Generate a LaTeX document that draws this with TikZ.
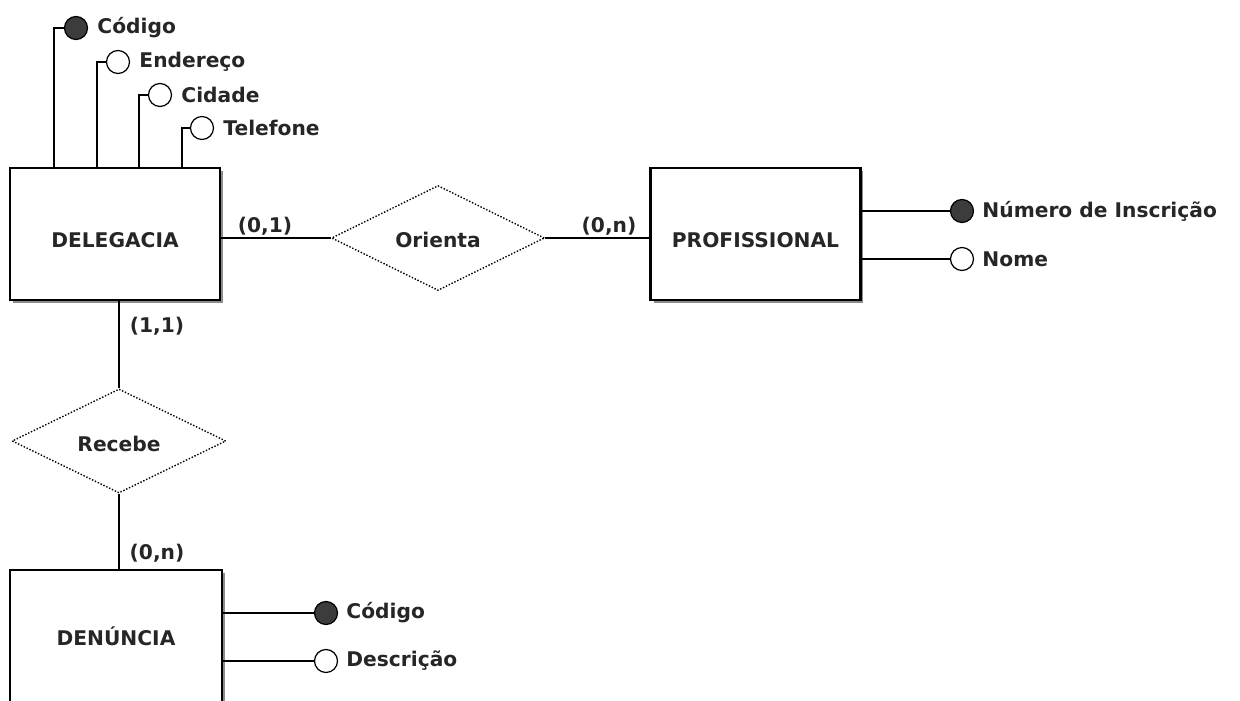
\documentclass[tikz,border=0pt]{standalone}
\usepackage{fontspec}
\setmainfont{DejaVu Sans}
\usetikzlibrary{shapes.geometric,shadows}
\definecolor{txt}{HTML}{262626}
\definecolor{keyfill}{HTML}{3C3C3C}
\begin{document}
\begin{tikzpicture}[x=0.02cm,y=-0.02cm,
  every node/.style={font=\fontsize{11.5}{13}\selectfont\bfseries, text=txt},
  entity/.style={draw=black, line width=1.3pt, fill=white, minimum width=4.2cm, minimum height=2.64cm, inner sep=0pt,
    text height=0.54cm, text depth=0cm,
    drop shadow={shadow xshift=0.06cm, shadow yshift=-0.06cm, fill=black!45, opacity=1}},
  relation/.style={diamond, draw=black, densely dotted, line width=0.8pt, fill=white, inner sep=0pt},
  conn/.style={draw=black, line width=0.9pt},
  attr/.style={circle, draw=black, line width=0.7pt, fill=white, minimum size=0.46cm, inner sep=0pt},
  keyattr/.style={attr, fill=keyfill},
  attrtext/.style={anchor=west, inner sep=0pt},
  card/.style={inner sep=0pt}]
\clip (0,0) rectangle (1240,700);
\fill[white] (0,0) rectangle (1240,700);

% entities
\node[entity] (del) at (115,234) {DELEGACIA};
\node[entity] (pro) at (755.5,234) {PROFISSIONAL};
\node[entity, minimum width=4.24cm, minimum height=2.8cm, text height=0.22cm] (den) at (116,640) {DENÚNCIA};

% relationships
\node[relation, minimum width=4.26cm, minimum height=2.1cm, text height=0.38cm, text depth=0cm] (ori) at (438,238) {Orienta};
\node[relation, minimum width=4.28cm, minimum height=2.08cm, text height=0.42cm, text depth=0cm] (rec) at (119,441) {Recebe};

% connectors
\draw[conn] (ori.west -| del.east) -- (ori.west);
\draw[conn] (ori.east) -- (ori.east -| pro.west);
\draw[conn] (rec.north |- del.south) -- (rec.north);
\draw[conn] (rec.south) -- (rec.south |- den.north);

% cardinalities
\node[card] (c01) at (265,226) {(0,1)};
\node[card] (c0n) at (609,226) {(0,n)};
\node[card] (c11) at (157,326) {(1,1)};
\node[card] (c0nb) at (157,553) {(0,n)};

% DELEGACIA attributes
\node[keyattr] (dcod) at (76,28) {};
\node[attr] (dend) at (118,62) {};
\node[attr] (dcid) at (160,95) {};
\node[attr] (dtel) at (202,128) {};
\node[attrtext] (dcodt) at ([xshift=0.18cm]dcod.east) {Código};
\node[attrtext] (dendt) at ([xshift=0.18cm]dend.east) {Endereço};
\node[attrtext] (dcidt) at ([xshift=0.18cm]dcid.east) {Cidade};
\node[attrtext] (dtelt) at ([xshift=0.18cm]dtel.east) {Telefone};
\coordinate (v1) at (54,0);
\coordinate (v2) at (97,0);
\coordinate (v3) at (139,0);
\coordinate (v4) at (182,0);
\draw[conn] (del.north -| v1) |- (dcod.west);
\draw[conn] (del.north -| v2) |- (dend.west);
\draw[conn] (del.north -| v3) |- (dcid.west);
\draw[conn] (del.north -| v4) |- (dtel.west);

% PROFISSIONAL attributes
\node[keyattr] (pnum) at (962,211) {};
\node[attr] (pnom) at (962,259) {};
\node[attrtext] (pnumt) at ([xshift=0.16cm]pnum.east) {Número de Inscrição};
\node[attrtext] (pnomt) at ([xshift=0.16cm]pnom.east) {Nome};
\draw[conn] (pnum.west -| pro.east) -- (pnum.west);
\draw[conn] (pnom.west -| pro.east) -- (pnom.west);

% DENÚNCIA attributes
\node[keyattr] (ncod) at (326,613) {};
\node[attr] (ndes) at (326,661) {};
\node[attrtext] (ncodt) at ([xshift=0.16cm]ncod.east) {Código};
\node[attrtext] (ndest) at ([xshift=0.16cm]ndes.east) {Descrição};
\draw[conn] (ncod.west -| den.east) -- (ncod.west);
\draw[conn] (ndes.west -| den.east) -- (ndes.west);
\end{tikzpicture}
\end{document}
